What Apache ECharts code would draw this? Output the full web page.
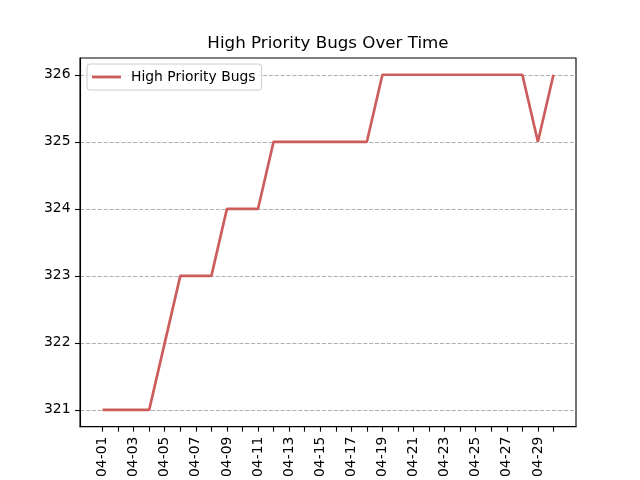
<!DOCTYPE html>
<html>
<head>
<meta charset="utf-8">
<script src="https://cdn.jsdelivr.net/npm/echarts@6/dist/echarts.min.js"></script>
<style>html,body{margin:0;padding:0;background:#fff}#c{width:640px;height:480px}</style>
</head>
<body>
<div id="c"></div>
<script>
var dates = ["04-01","04-02","04-03","04-04","04-05","04-06","04-07","04-08","04-09","04-10",
             "04-11","04-12","04-13","04-14","04-15","04-16","04-17","04-18","04-19","04-20",
             "04-21","04-22","04-23","04-24","04-25","04-26","04-27","04-28","04-29","04-30"];
var bugs = [321,321,321,321,322,323,323,323,324,324,
            324,325,325,325,325,325,325,325,326,326,
            326,326,326,326,326,326,326,326,325,326];
var yTicks = [321,322,323,324,325,326];
var seriesName = "High Priority Bugs";
var titleText = "High Priority Bugs Over Time";

var FONT = "DejaVu Sans";
var idx = dates.map(function(d,i){return i;});
var labelIdx = idx.filter(function(i){return i % 2 === 0;});
var chart = echarts.init(document.getElementById('c'), null, {renderer:'canvas'});
chart.setOption({
  animation: false,
  backgroundColor: '#fff',
  title: {
    text: titleText, left: 328, textAlign: 'center', top: 35, padding: 0,
    textStyle: {fontFamily: FONT, fontSize: 16.7, fontWeight: 'normal', color: '#000'}
  },
  legend: {
    left: 87, top: 64, orient: 'vertical',
    padding: [6, 6, 6, 5],
    borderColor: '#cccccc', borderWidth: 1, borderRadius: 3,
    backgroundColor: 'rgba(255,255,255,0.8)',
    icon: 'rect', itemWidth: 29, itemHeight: 2.8,
    textStyle: {fontFamily: FONT, fontSize: 13.9, color: '#000', padding: [0,0,0,5]},
    data: [seriesName]
  },
  grid: {left: 80, right: 64, top: 58, bottom: 53, show: true, borderColor: '#000', borderWidth: 1.1, backgroundColor: '#fff'},
  xAxis: {
    type: 'value', min: -1.45, max: 30.45,
    axisLine: {show: true, onZero: false, lineStyle: {color: '#000', width: 1.1}},
    axisTick: {show: true, length: 5, customValues: idx, lineStyle: {color: '#000', width: 1.1}},
    axisLabel: {
      customValues: labelIdx, rotate: 90, margin: 10,
      fontFamily: FONT, fontSize: 13.9, color: '#000',
      formatter: function(v){ return dates[Math.round(v)]; }
    },
    splitLine: {show: false}
  },
  yAxis: {
    type: 'value', min: 320.75, max: 326.25,
    axisLine: {show: true, onZero: false, lineStyle: {color: '#000', width: 1.1}},
    axisTick: {show: true, length: 5, customValues: yTicks, lineStyle: {color: '#000', width: 1.1}},
    axisLabel: {customValues: yTicks, margin: 9.5, fontFamily: FONT, fontSize: 13.9, color: '#000'},
    splitLine: {show: true, lineStyle: {color: '#b0b0b0', width: 1.1, type: [4.1, 1.8]}}
  },
  series: [{
    name: seriesName, type: 'line', symbol: 'none',
    data: bugs.map(function(v,i){return [i, v];}),
    lineStyle: {color: '#CD5C5C', width: 2.7},
    itemStyle: {color: '#CD5C5C'}
  }]
});
</script>
</body>
</html>
